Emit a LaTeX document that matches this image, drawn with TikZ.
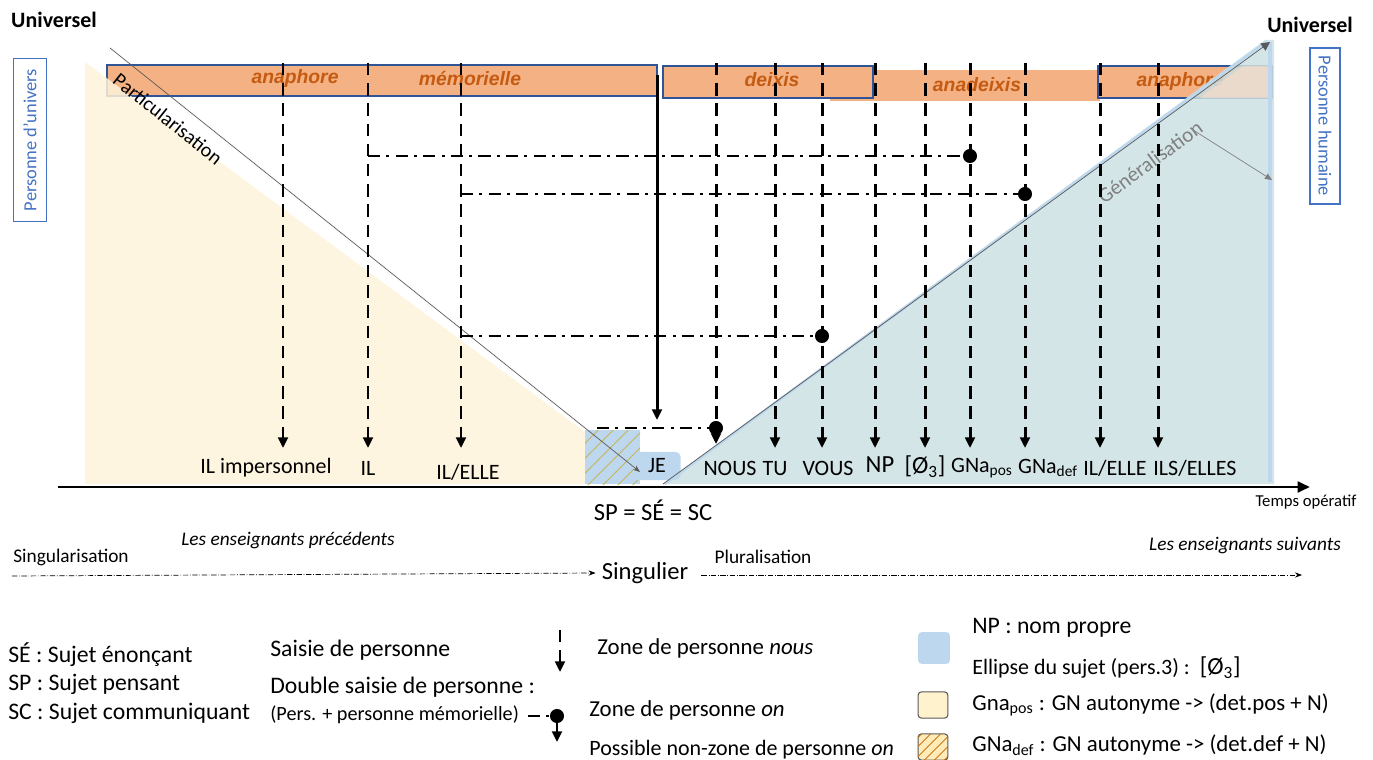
\documentclass[tikz,border=0pt]{standalone}
\usepackage{fontspec}
\setmainfont{Carlito}
\newfontfamily\arialfont{Liberation Sans}
\usetikzlibrary{arrows.meta,patterns.meta}

\definecolor{bandorange}{HTML}{F4B183}
\definecolor{bandtext}{HTML}{C55A11}
\definecolor{bandline}{HTML}{2F5597}
\definecolor{beigezone}{HTML}{FEF3DA}
\definecolor{genblue}{HTML}{CCE0E3}
\definecolor{lightblu}{HTML}{BDD7EE}
\definecolor{boxblue}{HTML}{4472C4}
\definecolor{hatchcol}{HTML}{C9B458}
\definecolor{keybeige}{HTML}{FFF2CC}
\definecolor{keyhatch}{HTML}{FFE08A}

\begin{document}
\begin{tikzpicture}[x=0.02cm,y=-0.02cm,
  saisie/.style={line width=1.7pt, dash pattern=on 7pt off 4.5pt, -{Triangle[length=6pt,width=5.5pt]}},
  dsaisie/.style={line width=1.5pt, dash pattern=on 7pt off 3.5pt on 1.7pt off 3.5pt},
  jdot/.style={circle, fill=black, inner sep=0pt, minimum size=8pt},
  lab/.style={font=\fontsize{12.5}{15}\selectfont, inner sep=1pt},
  leg/.style={font=\fontsize{13.5}{16}\selectfont, anchor=west, inner sep=0pt},
  band/.style={fill=bandorange, draw=bandline, line width=0.6pt},
  bandtxt/.style={text=bandtext, font=\arialfont\bfseries\itshape\fontsize{11}{13}\selectfont},
  pbox/.style={draw=boxblue, text=boxblue, line width=0.8pt, font=\fontsize{10.5}{12}\selectfont, inner sep=0pt},
  tline/.style={densely dashdotted, thin, -{Stealth[length=4pt]}},
  keysq/.style={rounded corners=2pt, minimum width=17pt, minimum height=15pt, inner sep=0pt}]
\useasboundingbox (0,0) rectangle (1373,760);

% bands
\fill[bandorange] (830,70) rectangle (1100,101);
\draw[band] (107,65) rectangle (657,96);
\draw[band] (663,66) rectangle (873,98);
\draw[band] (1098,66) rectangle (1272,98);
\node[bandtxt] (ana1) at (295,79) {anaphore};
\node[bandtxt] (mem) at (470,79) {mémorielle};
\node[bandtxt] (dei) at (772,80) {deixis};
\node[bandtxt] (anad) at (977,85) {anadeixis};
\node[bandtxt] (ana2) at (1180,82) {anaphore};

% zones
\fill[beigezone, fill opacity=0.85] (85,62) -- (585,432) -- (585,484) -- (85,484) -- cycle;
\fill[lightblu] (585,430) rectangle (640,484);
\fill[pattern={Lines[angle=45,distance=6pt,line width=0.5pt]}, pattern color=hatchcol] (585,430) rectangle (640,484);
\fill[genblue, fill opacity=0.85] (663,484) -- (1265,40) -- (1274,40) -- (1274,484) -- cycle;
\fill[bandorange!45, fill opacity=0.6] (1200,98) -- (1243,66) -- (1272,66) -- (1272,98) -- cycle;
\draw[lightblu, line width=2.5pt] (1270,42) -- (1270,482);
\draw[lightblu, line width=1.5pt] (665,484) -- (1266,42);
\node[rounded corners=3pt, fill=lightblu, minimum width=27pt, minimum height=16pt, inner sep=0pt] (jebox) at (657,466) {};

% particularisation / generalisation
\coordinate (pstart) at (110,48);
\coordinate (pend) at (640,472);
\draw[gray!70!black, thin, -{Stealth[length=4pt]}] (pstart) -- (pend);
\node[rotate=-38.7, font=\fontsize{11.5}{13}\selectfont] (part) at (168,119) {Particularisation};
\coordinate (gstart) at (663,484);
\coordinate (gend) at (1270,42);
\draw[gray!70!black, thin, -{Triangle[length=5pt,width=5pt]}] (gstart) -- (gend);
\node[rotate=36.4, text=gray, font=\fontsize{12}{14}\selectfont] (gen) at (1150,162) {Généralisation};
\coordinate (ga) at (1190,128);
\coordinate (gb) at (1272,180);
\draw[gray, thin, -{Triangle[length=4pt,width=3.5pt]}] (ga) -- (gb);

% saisies de personne
\coordinate (tips) at (0,448);
\coordinate (s1) at (283,63);
\coordinate (s2) at (368,63);
\coordinate (s3) at (461,63);
\coordinate (s5) at (716,63);
\coordinate (s6) at (775,63);
\coordinate (s7) at (822,63);
\coordinate (s8) at (875,63);
\coordinate (s9) at (925,63);
\coordinate (s10) at (970,63);
\coordinate (s11) at (1025,63);
\coordinate (s12) at (1100,63);
\coordinate (s13) at (1158,63);
\draw[saisie] (s1) -- (s1 |- tips);
\draw[saisie] (s2) -- (s2 |- tips);
\draw[saisie] (s3) -- (s3 |- tips);
\draw[saisie] (s5) -- (716,444);
\draw[saisie] (s6) -- (s6 |- tips);
\draw[saisie] (s7) -- (s7 |- tips);
\draw[saisie] (s8) -- (s8 |- tips);
\draw[saisie] (s9) -- (s9 |- tips);
\draw[saisie] (s10) -- (s10 |- tips);
\draw[saisie] (s11) -- (s11 |- tips);
\draw[saisie] (s12) -- (s12 |- tips);
\draw[saisie] (s13) -- (s13 |- tips);
\coordinate (jetop) at (657,75);
\coordinate (jeend) at (657,420);
\draw[line width=1.7pt, -{Triangle[length=6pt,width=5.5pt]}] (jetop) -- (jeend);

% doubles saisies
\coordinate (h1) at (368,156);
\coordinate (h2) at (461,194);
\coordinate (h3) at (461,336);
\coordinate (h4) at (597,428);
\node[jdot] (d1) at (970,156) {};
\node[jdot] (d2) at (1025,194) {};
\node[jdot] (d3) at (822,336) {};
\node[jdot] (d4) at (716,428) {};
\draw[dsaisie] (h1) -- (d1);
\draw[dsaisie] (h2) -- (d2);
\draw[dsaisie] (h3) -- (d3);
\draw[dsaisie] (h4) -- (d4);

% labels
\node[lab] (ilimp) at (266,468) {IL impersonnel};
\node[lab] (il) at (368,468) {IL};
\node[lab] (ilelle) at (468,472) {IL/ELLE};
\node[lab] (je) at (657,466) {JE};
\node[lab] (nous) at (730,468) {NOUS};
\node[lab] (tu) at (775,469) {TU};
\node[lab] (vous) at (828,468) {VOUS};
\node[lab, font=\fontsize{14}{16}\selectfont] (np) at (880,465) {NP};
\node[lab, font=\fontsize{14}{16}\selectfont] (ell) at (925,467) {[Ø\textsubscript{3}]};
\node[lab] (gpos) at (982,468) {GNa\textsubscript{pos}};
\node[lab] (gdef) at (1048,468) {GNa\textsubscript{def}};
\node[lab] (ilelleb) at (1115,468) {IL/ELLE};
\node[lab] (ils) at (1195,468) {ILS/ELLES};

% axe
\coordinate (ax0) at (58,487);
\coordinate (ax1) at (1310,487);
\draw[line width=1.7pt, -{Triangle[length=7pt,width=6pt]}] (ax0) -- (ax1);
\node[font=\fontsize{9.5}{11}\selectfont] (temps) at (1306,502) {Temps opératif};
\node[font=\fontsize{14}{16}\selectfont] (spsesc) at (653,510) {SP = SÉ = SC};
\node[font=\bfseries\fontsize{12.5}{15}\selectfont] (univl) at (54,20) {Universel};
\node[font=\bfseries\fontsize{12.5}{15}\selectfont] (univr) at (1310,25) {Universel};
\node[pbox, rotate=90, minimum width=93pt, minimum height=19pt] (pu) at (30,140) {Personne d’univers};
\node[pbox, rotate=-90, minimum width=89pt, minimum height=17pt] (ph) at (1325,126) {Personne humaine};

% singulier / pluriel
\node[font=\fontsize{11}{13}\selectfont] (sing) at (71,557) {Singularisation};
\node[font=\itshape\fontsize{11}{13}\selectfont] (prec) at (288,540) {Les enseignants précédents};
\node[font=\fontsize{14}{16}\selectfont] (singulier) at (645,573) {Singulier};
\coordinate (bl) at (12,576);
\draw[tline] (bl) -- (singulier.west);
\node[font=\fontsize{11}{13}\selectfont] (plur) at (763,557) {Pluralisation};
\node[font=\itshape\fontsize{11}{13}\selectfont] (suiv) at (1245,546) {Les enseignants suivants};
\coordinate (br) at (1302,575);
\draw[tline, shorten <=4pt] (singulier.east |- br) -- (br);

% legende
\node[leg] (se) at (8,655) {SÉ : Sujet énonçant};
\node[leg] (sp) at (8,684) {SP : Sujet pensant};
\node[leg] (sc) at (8,713) {SC : Sujet communiquant};
\node[leg] (saisie) at (270,650) {Saisie de personne};
\node[leg] (dbl) at (270,687) {Double saisie de personne :};
\node[leg, font=\fontsize{11.5}{13}\selectfont] (pers) at (270,715) {(Pers. + personne mémorielle)};
\coordinate (l1) at (560,630);
\coordinate (l1e) at (560,672);
\draw[saisie] (l1) -- (l1e);
\coordinate (l2) at (528,716);
\node[jdot] (ld) at (557,716) {};
\coordinate (l2e) at (557,742);
\draw[dsaisie] (l2) -- (ld);
\draw[line width=1.5pt, -{Triangle[length=6pt,width=5.5pt]}] (ld) -- (l2e);
\node[leg, font=\fontsize{13}{15}\selectfont] (znous) at (597,648) {Zone de personne \textit{nous}};
\node[leg, font=\fontsize{13}{15}\selectfont] (zon) at (589,710) {Zone de personne \textit{on}};
\node[leg, font=\fontsize{12.5}{15}\selectfont] (znon) at (589,750) {Possible non-zone de personne \textit{on}};

\node[keysq, fill=lightblu, minimum width=18pt, minimum height=18pt] (k1) at (934,648) {};
\node[keysq, fill=keybeige, draw=gray!70!black, line width=0.6pt] (k2) at (933,705) {};
\node[keysq, draw=gray!70!black, line width=0.6pt, fill=keyhatch!60,
  postaction={pattern={Lines[angle=45,distance=4pt,line width=0.5pt]}, pattern color=orange!80!black}] (k3) at (933,747) {};
\node[leg, font=\fontsize{13.5}{15}\selectfont] (tnp) at (972,628) {NP : nom propre};
\node[leg, font=\fontsize{12.5}{15}\selectfont] (tell) at (972,668) {Ellipse du sujet (pers.3) :\ \ {\fontsize{14}{16}\selectfont[Ø\textsubscript{3}]}};
\node[leg, font=\fontsize{13}{15}\selectfont] (tpos) at (972,705) {Gna\textsubscript{pos} : GN autonyme -> (det.pos + N)};
\node[leg, font=\fontsize{13}{15}\selectfont] (tdef) at (972,745) {GNa\textsubscript{def} : GN autonyme -> (det.def + N)};
\end{tikzpicture}
\end{document}
